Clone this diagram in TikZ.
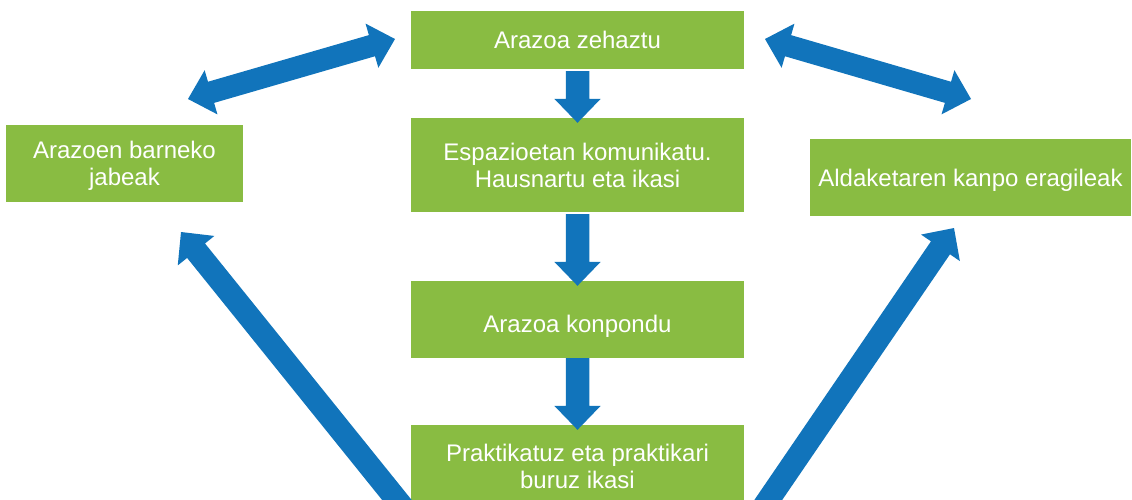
\documentclass[tikz,border=0pt]{standalone}
\usepackage{fontspec}
\setmainfont{Liberation Sans}
\usetikzlibrary{calc}
\definecolor{boxgreen}{RGB}{137,188,66}
\definecolor{arrowblue}{RGB}{17,116,187}
\tikzset{
  box/.style={rectangle, fill=boxgreen, draw=none, text=white, inner sep=0pt,
    align=center, font=\fontsize{24}{27}\selectfont},
  oneline/.style={text height=17pt, text depth=0pt},
  arrowfill/.style={fill=arrowblue, draw=none},
}
% tail, tip, half shaft width, half head width, head length
\newcommand\blockarrow[5]{%
  \coordinate (ba-h) at ($(#2)!#5!(#1)$);
  \fill[arrowfill] ($(#1)!#3!90:(#2)$) -- ($(ba-h)!#3!-90:(#1)$) -- ($(ba-h)!#4!-90:(#1)$) -- (#2)
    -- ($(ba-h)!#4!90:(#1)$) -- ($(ba-h)!#3!90:(#1)$) -- ($(#1)!#3!-90:(#2)$) -- cycle;
}
\newcommand\dblarrow[5]{%
  \coordinate (da-h1) at ($(#2)!#5!(#1)$);
  \coordinate (da-h2) at ($(#1)!#5!(#2)$);
  \fill[arrowfill] (#1) -- ($(da-h2)!#4!90:(#2)$) -- ($(da-h2)!#3!90:(#2)$)
    -- ($(da-h1)!#3!-90:(#1)$) -- ($(da-h1)!#4!-90:(#1)$) -- (#2)
    -- ($(da-h1)!#4!90:(#1)$) -- ($(da-h1)!#3!90:(#1)$)
    -- ($(da-h2)!#3!-90:(#2)$) -- ($(da-h2)!#4!-90:(#2)$) -- cycle;
}
\begin{document}
\begin{tikzpicture}[x=1pt, y=-1pt]
\useasboundingbox (0,0) rectangle (1132,499);
% boxes
\node[box, oneline, minimum width=333pt, minimum height=58pt] (zehaztu) at (577.5,40) {Arazoa zehaztu};
\node[box, minimum width=333pt, minimum height=94pt] (espazio) at (577.5,165) {Espazioetan komunikatu.\\Hausnartu eta ikasi};
\node[box, text height=26pt, text depth=0pt, minimum width=333pt, minimum height=77pt] (konpondu) at (577.5,319.5) {Arazoa konpondu};
\node[box, minimum width=333pt, minimum height=83pt] (praktika) at (577.5,466.5) {Praktikatuz eta praktikari\\buruz ikasi};
\node[box, text depth=0pt, minimum width=237pt, minimum height=77pt] (barne) at (124.5,163.5) {Arazoen barneko\\jabeak};
\node[box, oneline, minimum width=321pt, minimum height=77pt] (kanpo) at (970.5,177.5) {Aldaketaren kanpo eragileak};
% arrow end points
\coordinate (d1a) at ($(zehaztu.south)+(0,2)$);
\coordinate (d1b) at ($(espazio.north)+(0,5)$);
\coordinate (d2a) at ($(espazio.south)+(0,2)$);
\coordinate (d2b) at ($(konpondu.north)+(0,5)$);
\coordinate (d3a) at ($(konpondu.south)+(0,0)$);
\coordinate (d3b) at ($(praktika.north)+(0,5)$);
\coordinate (lda) at (188,99);
\coordinate (ldb) at (395,39);
\coordinate (rda) at (765,39);
\coordinate (rdb) at (971,99);
\coordinate (lua) at (409,515);
\coordinate (lub) at (181,232);
\coordinate (rua) at (758,515);
\coordinate (rub) at (954,228);
% arrows
\blockarrow{d1a}{d1b}{11.75pt}{23.2pt}{24pt}
\blockarrow{d2a}{d2b}{11.75pt}{23.2pt}{24pt}
\blockarrow{d3a}{d3b}{11.75pt}{23.2pt}{24pt}
\dblarrow{lda}{ldb}{11pt}{23pt}{24pt}
\dblarrow{rda}{rdb}{11pt}{23pt}{24pt}
\blockarrow{lua}{lub}{11.5pt}{23.5pt}{24pt}
\blockarrow{rua}{rub}{11.5pt}{23.5pt}{24pt}
\end{tikzpicture}
\end{document}
